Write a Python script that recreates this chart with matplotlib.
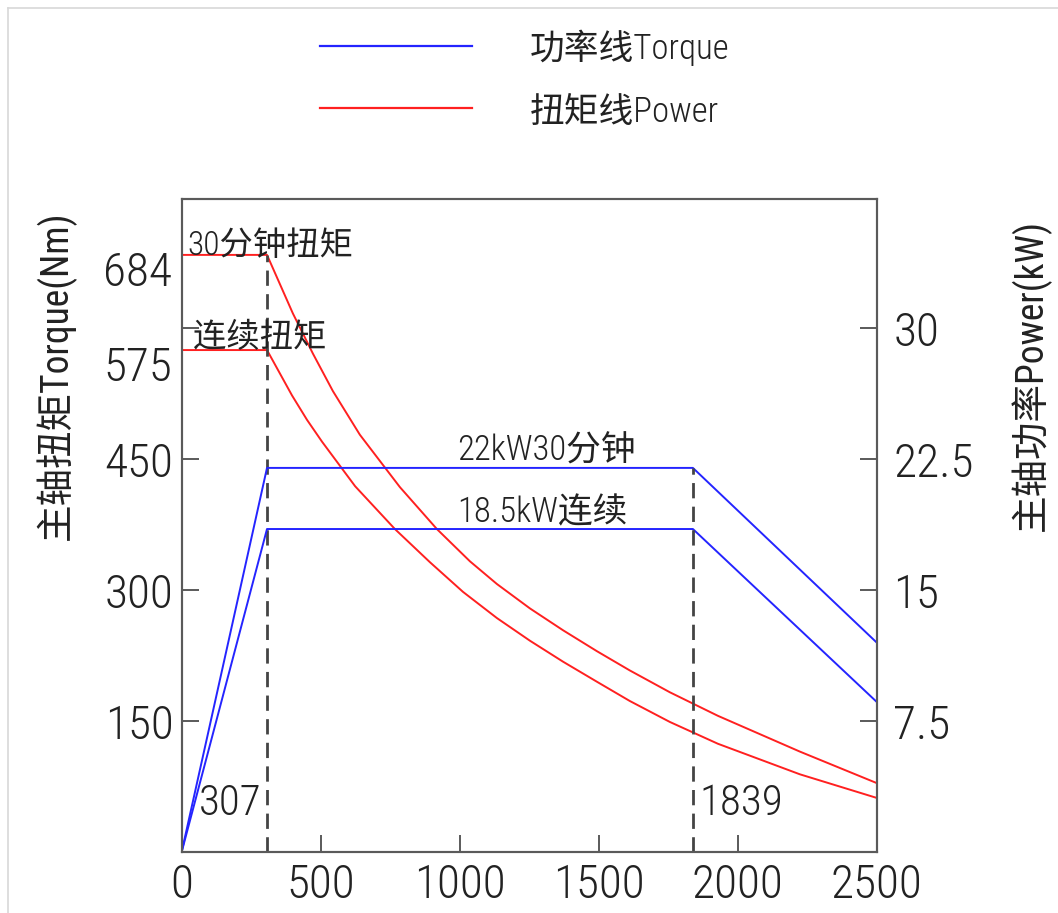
import matplotlib
matplotlib.use("Agg")
import matplotlib.pyplot as plt
from matplotlib.lines import Line2D
from matplotlib.transforms import ScaledTranslation

plt.rcParams['font.family'] = ['Roboto Condensed', 'Liberation Sans Narrow', 'DejaVu Sans',
                               'Noto Sans CJK SC']
plt.rcParams['font.stretch'] = 'condensed'
plt.rcParams['font.weight'] = 'light'

# Spindle torque curves (Nm) vs speed (rpm)
speed_30min = [0, 307, 400, 472, 544, 641, 785, 918, 1037, 1134, 1253, 1372, 1494, 1612,
               1756, 1929, 2224, 2500]
torque_30min = [684, 684, 617, 571, 528, 478, 418, 370, 333, 307, 279, 254, 230, 208,
                183, 156, 115, 79]
speed_cont = [0, 307, 397, 451, 505, 624, 767, 893, 1012, 1134, 1253, 1372, 1494, 1612,
              1756, 1929, 2224, 2500]
torque_cont = [575, 575, 523, 495, 470, 419, 370, 332, 298, 268, 242, 218, 195, 173,
               149, 124, 89, 62]

# Spindle power curves (kW) vs speed (rpm)
speed_power = [0, 307, 1839, 2500]
power_30min = [0, 22, 22, 12.0]
power_cont = [0, 18.5, 18.5, 8.6]

base_speed = 307
max_power_speed = 1839

x_ticks = [0, 500, 1000, 1500, 2000, 2500]
left_ticks = [150, 300, 450, 600]
left_tick_labels = ['150', '300', '450', '']
left_extra_ticks = [575, 684]
right_ticks = [7.5, 15, 22.5, 30]
right_tick_labels = ['7.5', '15', '22.5', '30']

RED = '#ff2020'
BLUE = '#2424ff'
FRAME = '#5a5a5a'
TXT = '#222222'

fig = plt.figure(figsize=(10.58, 9.13), dpi=100)
ax = fig.add_axes([0.1717, 0.0668, 0.8286 - 0.1717, 0.782 - 0.0668])
ax2 = ax.twinx()

ax.set_xlim(0, 2500)
ax.set_ylim(0, 748)
ax2.set_ylim(0, 748 / 20)

# torque
ax.plot(speed_30min, torque_30min, color=RED, lw=1.4)
ax.plot(speed_cont, torque_cont, color=RED, lw=1.4)
# power
ax2.plot(speed_power, power_30min, color=BLUE, lw=1.4)
ax2.plot(speed_power, power_cont, color=BLUE, lw=1.4)

# corner speed markers
ax.plot([base_speed, base_speed], [0, torque_30min[1]], color='#444444', lw=2,
        linestyle=(0, (5.5, 3)))
ax2.plot([max_power_speed, max_power_speed], [0, power_30min[2]], color='#444444', lw=2,
         linestyle=(0, (5.5, 3)))

for a in (ax, ax2):
    for s in a.spines.values():
        s.set_color(FRAME)
        s.set_linewidth(1.5)

ax.set_xticks(x_ticks)
ax.set_xticklabels([str(v) for v in x_ticks])
ax.set_yticks(left_ticks)
ax.set_yticklabels(left_tick_labels)
ax.set_yticks(left_extra_ticks, minor=True)
ax.set_yticklabels([str(v) for v in left_extra_ticks], minor=True)
ax.tick_params(axis='both', which='major', direction='in', length=12, width=1.4,
               color=FRAME, labelsize=34, labelcolor=TXT, pad=6)
ax.tick_params(axis='y', which='minor', length=0, labelsize=34, labelcolor=TXT, pad=7)
ax.tick_params(axis='x', pad=8)
shift_down = ScaledTranslation(0, -10 / 72, fig.dpi_scale_trans)
for lab in ax.get_yticklabels(minor=True):
    lab.set_transform(lab.get_transform() + shift_down)
ax2.set_yticks(right_ticks)
ax2.set_yticklabels(right_tick_labels)
ax2.tick_params(axis='y', direction='in', length=12, width=1.4, color=FRAME,
                labelsize=34, labelcolor=TXT, pad=12)

ax.set_ylabel('主轴扭矩Torque(Nm)', fontsize=27, color=TXT)
ax.yaxis.set_label_coords(-0.152, 0.73)
ax2.set_ylabel('主轴功率Power(kW)', fontsize=27, color=TXT)
ax2.yaxis.set_label_coords(1.192, 0.73)

# curve annotations
ax.text(22, 684, '30分钟扭矩', fontsize=24, color=TXT, va='baseline', ha='left')
ax.text(40, 578, '连续扭矩', fontsize=24, color=TXT, va='baseline', ha='left')
ax2.text(990, 22.4, '22kW30分钟', fontsize=25, color=TXT, va='baseline', ha='left')
ax2.text(990, 18.9, '18.5kW连续', fontsize=25, color=TXT, va='baseline', ha='left')
ax.text(base_speed - 20, 55, str(base_speed), fontsize=31, color=TXT, va='center', ha='right')
ax.text(max_power_speed + 25, 55, str(max_power_speed), fontsize=31, color=TXT,
        va='center', ha='left')

# legend drawn above the plot area
W, H = 1058, 913
fig.add_artist(Line2D([320 / W, 472 / W], [1 - 46 / H, 1 - 46 / H], color=BLUE, lw=1.6))
fig.add_artist(Line2D([320 / W, 472 / W], [1 - 108 / H, 1 - 108 / H], color=RED, lw=1.6))
fig.text(530 / W, 1 - 48 / H, '功率线Torque', fontsize=25, color=TXT, va='center', ha='left')
fig.text(530 / W, 1 - 112 / H, '扭矩线Power', fontsize=25, color=TXT, va='center', ha='left')

# page frame
fig.add_artist(Line2D([8 / W, 1.0], [1 - 8 / H, 1 - 8 / H], color='#d8d8d8', lw=1.2))
fig.add_artist(Line2D([8 / W, 8 / W], [0, 1 - 8 / H], color='#d8d8d8', lw=1.2))

fig.savefig('out.png', dpi=100)
